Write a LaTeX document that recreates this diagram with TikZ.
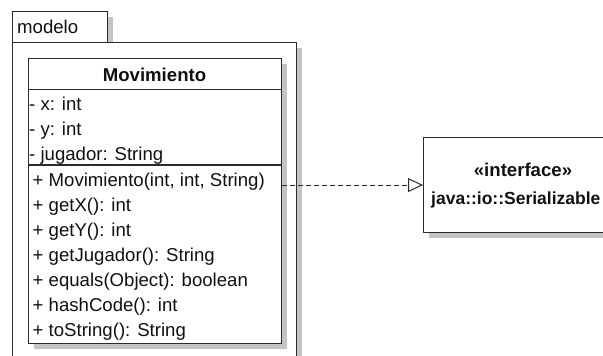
\documentclass[tikz,border=0pt]{standalone}
\usepackage{fontspec}
\setmainfont{Liberation Sans}
\usetikzlibrary{arrows.meta,shadows}
\definecolor{linec}{HTML}{2B2B2B}
\definecolor{shadowc}{HTML}{C4C4C4}
\definecolor{textc}{HTML}{111111}
\newcommand{\umlfont}{\fontsize{18.6}{22}\selectfont}
\begin{document}
\begin{tikzpicture}[x=1pt,y=-1pt,
  box/.style={draw=linec, line width=1.1pt, fill=white, inner sep=0pt,
    anchor=north west,
    drop shadow={shadow xshift=5pt,shadow yshift=-5pt,fill=shadowc,opacity=1}},
  sepline/.style={draw=linec, line width=1.1pt},
  txt/.style={inner sep=0pt, anchor=base west, font=\umlfont, text=textc},
  btxt/.style={inner sep=0pt, anchor=base, font=\umlfont\bfseries, text=textc},
  realize/.style={draw=linec, line width=1pt, dash pattern=on 5pt off 3pt,
    -{Triangle[open,length=15pt,width=14pt,line width=1pt]}}
  ]
\useasboundingbox (0,0) rectangle (603,356);
\clip (0,0) rectangle (603,356);
% package
\node[box, minimum width=95pt, minimum height=31pt] (pkgtab) at (12,11) {};
\node[box, minimum width=284pt, minimum height=330pt] (pkg) at (12,42) {};
\node[txt] (pkgname) at (17,34) {modelo};
% class
\node[box, minimum width=253pt, minimum height=285pt] (cls) at (28,58) {};
\draw[sepline] ([yshift=-31.5pt]cls.north west) -- ([yshift=-31.5pt]cls.north east);
\draw[sepline] ([yshift=-107pt]cls.north west) -- ([yshift=-107pt]cls.north east);
\node[btxt] (cname) at (154.5,81) {Movimiento};
\node[txt] (a1) at (29,110) {- x: int};
\node[txt] (a2) at (29,135.3) {- y: int};
\node[txt] (a3) at (29,160.7) {- jugador: String};
\node[txt] (m1) at (32.5,186) {+ Movimiento(int, int, String)};
\node[txt] (m2) at (32.5,211) {+ getX(): int};
\node[txt] (m3) at (32.5,236) {+ getY(): int};
\node[txt] (m4) at (32.5,261) {+ getJugador(): String};
\node[txt] (m5) at (32.5,286) {+ equals(Object): boolean};
\node[txt] (m6) at (32.5,311) {+ hashCode(): int};
\node[txt] (m7) at (32.5,336) {+ toString(): String};
% interface
\node[box, minimum width=200pt, minimum height=95pt] (iface) at (423,137) {};
\node[btxt] (itype) at (523,176.5) {«interface»};
\node[inner sep=0pt, anchor=base west, font=\fontsize{17.5}{21}\selectfont\bfseries, text=textc] (iname) at (431,204) {java::io::Serializable};
% realization
\draw[realize] (cls.east |- iface.west) -- (iface.west);
\end{tikzpicture}
\end{document}
